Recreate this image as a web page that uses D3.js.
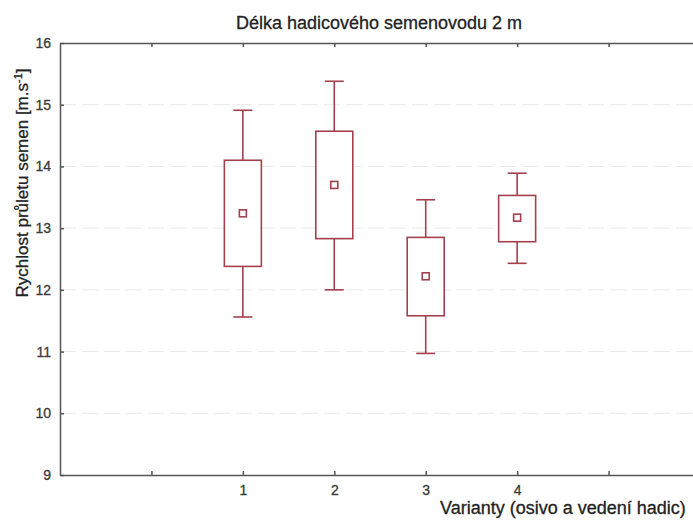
<!DOCTYPE html>
<html>
<head>
<meta charset="utf-8">
<script src="https://cdn.jsdelivr.net/npm/d3@7"></script>
<style>
  body { margin: 0; background: #fff; }
  svg { display: block; font-family: "Liberation Sans", Arial, sans-serif; }
  text { stroke: currentColor; stroke-width: 0.3px; }
</style>
</head>
<body>
<script>
// values (one entry per variant)
var categories = [1, 2, 3, 4];
var whiskerHigh = [14.91, 15.38, 13.46, 13.89];
var boxHigh = [14.10, 14.57, 12.85, 13.53];
var means = [13.24, 13.70, 12.22, 13.17];
var boxLow = [12.38, 12.83, 11.58, 12.78];
var whiskerLow = [11.56, 12.00, 10.97, 12.43];
var yTicks = [9, 10, 11, 12, 13, 14, 15, 16];
var xTicks = [0, 1, 2, 3, 4, 5];

var width = 693, height = 520;
var plotLeft = 60, plotTop = 43, plotBottom = 475, plotRight = 700;
var boxColor = "#a3404c", axisColor = "#555";

var svg = d3.select("body").append("svg")
  .attr("width", width)
  .attr("height", height);

var x = d3.scaleLinear().domain([-1, 6]).range([plotLeft, plotRight]);
var y = d3.scaleLinear().domain([9, 16]).range([plotBottom, plotTop]);

//grid lines
svg.append("g")
  .selectAll("line")
  .data(yTicks.filter(function(d) { return d > 9 && d < 16; }))
  .enter().append("line")
  .attr("x1", plotLeft).attr("x2", plotRight)
  .attr("y1", function(d) { return y(d); })
  .attr("y2", function(d) { return y(d); })
  .attr("stroke", "#e9e9e9")
  .attr("stroke-width", 1)
  .attr("stroke-dasharray", "16,6");

//axes, ticks pointing inside the plot
var tickText = function(g) {
  g.selectAll("text")
    .style("font-size", "14px")
    .style("fill", "#3a3a3a")
    .style("color", "#3a3a3a");
};

svg.append("g")
  .attr("transform", "translate(" + plotLeft + ",0)")
  .call(d3.axisLeft(y).tickValues(yTicks).tickFormat(d3.format("d"))
    .tickSizeInner(-4).tickSizeOuter(0).tickPadding(9))
  .call(tickText);

svg.append("g")
  .attr("transform", "translate(0," + plotBottom + ")")
  .call(d3.axisBottom(x).tickValues(xTicks).tickSizeInner(-4).tickSizeOuter(0).tickPadding(10)
    .tickFormat(function(d) { return categories.indexOf(d) >= 0 ? d : ""; }))
  .call(tickText);

svg.append("g")
  .attr("transform", "translate(0," + plotTop + ")")
  .call(d3.axisTop(x).tickValues(xTicks).tickSizeInner(-4).tickSizeOuter(0).tickFormat(""));

svg.selectAll(".domain, .tick line")
  .attr("stroke", axisColor)
  .attr("stroke-width", 1.5);

//boxes and whiskers
var rows = categories.map(function(c, i) {
  return { c: c, hi: whiskerHigh[i], q3: boxHigh[i], m: means[i], q1: boxLow[i], lo: whiskerLow[i] };
});

var boxW = 37, capW = 19, mark = 7;
var g = svg.append("g")
  .attr("fill", "none")
  .attr("stroke", boxColor)
  .attr("stroke-width", 1.6);

var item = g.selectAll("g.box").data(rows).enter().append("g").attr("class", "box");

item.append("line")
  .attr("x1", function(d) { return x(d.c); }).attr("x2", function(d) { return x(d.c); })
  .attr("y1", function(d) { return y(d.hi); }).attr("y2", function(d) { return y(d.q3); });
item.append("line")
  .attr("x1", function(d) { return x(d.c); }).attr("x2", function(d) { return x(d.c); })
  .attr("y1", function(d) { return y(d.q1); }).attr("y2", function(d) { return y(d.lo); });
item.append("line")
  .attr("x1", function(d) { return x(d.c) - capW / 2; }).attr("x2", function(d) { return x(d.c) + capW / 2; })
  .attr("y1", function(d) { return y(d.hi); }).attr("y2", function(d) { return y(d.hi); });
item.append("line")
  .attr("x1", function(d) { return x(d.c) - capW / 2; }).attr("x2", function(d) { return x(d.c) + capW / 2; })
  .attr("y1", function(d) { return y(d.lo); }).attr("y2", function(d) { return y(d.lo); });
item.append("rect")
  .attr("x", function(d) { return x(d.c) - boxW / 2; })
  .attr("width", boxW)
  .attr("y", function(d) { return y(d.q3); })
  .attr("height", function(d) { return y(d.q1) - y(d.q3); })
  .attr("fill", "#fff");
item.append("rect")
  .attr("x", function(d) { return x(d.c) - mark / 2; })
  .attr("y", function(d) { return y(d.m) - mark / 2; })
  .attr("width", mark).attr("height", mark);

//titles
svg.append("text")
  .attr("x", 379).attr("y", 29)
  .attr("text-anchor", "middle")
  .style("font-size", "18px")
  .style("fill", "#222").style("color", "#222")
  .text("Délka hadicového semenovodu 2 m");

var yl = svg.append("text")
  .attr("transform", "translate(28,183) rotate(-90)")
  .attr("text-anchor", "middle")
  .style("font-size", "17px")
  .style("fill", "#222").style("color", "#222");
yl.append("tspan").text("Rychlost průletu semen [m.s");
yl.append("tspan").attr("dy", -6).style("font-size", "11px").text("-1");
yl.append("tspan").attr("dy", 6).text("]");

svg.append("text")
  .attr("x", 440).attr("y", 514)
  .style("font-size", "18px")
  .style("fill", "#222").style("color", "#222")
  .text("Varianty (osivo a vedení hadic)");
</script>
</body>
</html>
